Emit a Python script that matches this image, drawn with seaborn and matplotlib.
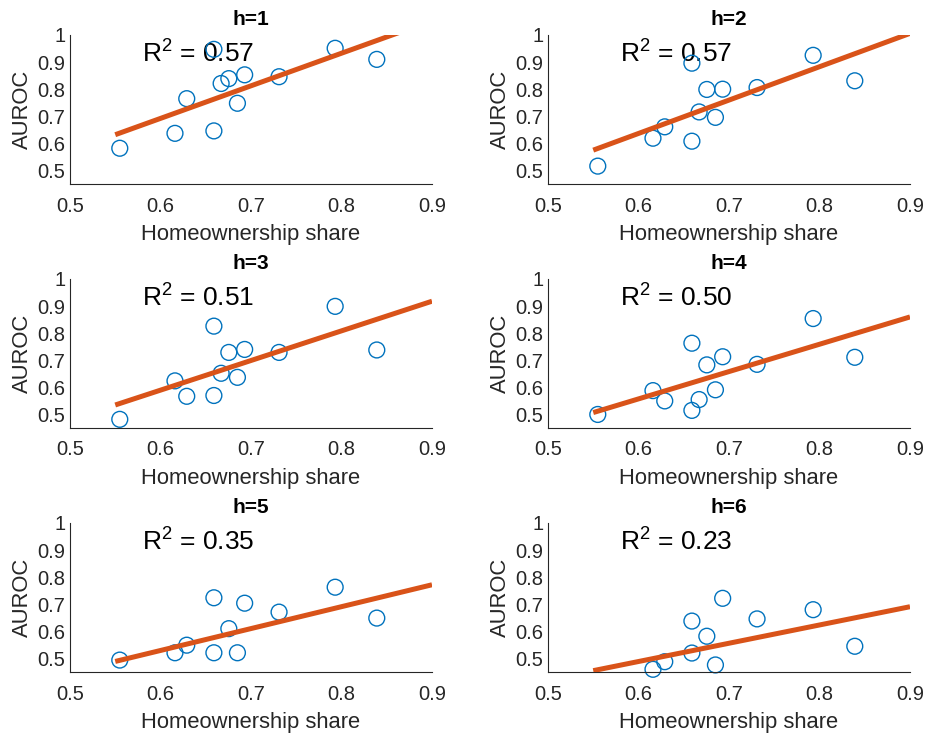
import numpy as np
import pandas as pd
import matplotlib
matplotlib.use("Agg")
import matplotlib.pyplot as plt
import seaborn as sns

# ---------------- data ----------------
homeownership = [0.555, 0.616, 0.629, 0.659, 0.659, 0.667, 0.6755, 0.685, 0.693, 0.731, 0.793, 0.839]
nan = np.nan
auroc_h1 = [0.582, 0.637, 0.765, 0.646, 0.947, 0.821, 0.839, 0.748, 0.853, 0.846, 0.951, 0.910]
auroc_h2 = [0.516, 0.619, 0.661, 0.608, 0.896, 0.716, 0.799, 0.696, 0.800, 0.806, 0.925, 0.831]
auroc_h3 = [0.482, 0.624, 0.567, 0.570, 0.826, 0.652, 0.729, 0.637, 0.740, 0.729, 0.899, 0.738]
auroc_h4 = [0.500, 0.588, 0.550, 0.515, 0.763, 0.555, 0.683, 0.591, 0.713, 0.685, 0.854, 0.711]
auroc_h5 = [0.494, 0.521, 0.549, 0.521, 0.724, nan, 0.610, 0.521, 0.704, 0.671, 0.763, 0.649]
auroc_h6 = [nan, 0.460, 0.488, 0.520, 0.638, nan, 0.582, 0.476, 0.722, 0.646, 0.680, 0.545]
panel_titles = ["h=1", "h=2", "h=3", "h=4", "h=5", "h=6"]
r2_labels = ["0.57", "0.57", "0.51", "0.50", "0.35", "0.23"]
fit_x = [0.55, 0.90]
fit_y_start = [0.632, 0.575, 0.535, 0.507, 0.489, 0.455]
fit_y_end = [1.053, 1.006, 0.918, 0.860, 0.772, 0.691]
x_ticks = [0.5, 0.6, 0.7, 0.8, 0.9]
y_ticks = [0.5, 0.6, 0.7, 0.8, 0.9, 1.0]
y_ticklabels = ["0.5", "0.6", "0.7", "0.8", "0.9", "1"]

all_auroc = [auroc_h1, auroc_h2, auroc_h3, auroc_h4, auroc_h5, auroc_h6]

# ---------------- style ----------------
sns.set_style("white")
plt.rcParams["font.family"] = ["Liberation Sans", "DejaVu Sans"]
plt.rcParams["mathtext.fontset"] = "custom"
plt.rcParams["mathtext.rm"] = "Liberation Sans"
plt.rcParams["mathtext.it"] = "Liberation Sans:italic"
plt.rcParams["mathtext.bf"] = "Liberation Sans:bold"

AX_COLOR = "#262626"
BLUE = "#0072BD"
ORANGE = "#D95319"

fig = plt.figure(figsize=(9.27, 7.34), dpi=100)
lefts = [70 / 927, 548 / 927]
bottoms_px = [184, 428, 672]
height = 149 / 734
width = 362 / 927

for i in range(6):
    row, col = divmod(i, 2)
    ax = fig.add_axes([lefts[col], 1 - bottoms_px[row] / 734, width, height])
    df = pd.DataFrame({"x": homeownership, "y": all_auroc[i]}).dropna()
    sns.scatterplot(data=df, x="x", y="y", ax=ax, marker="o", s=130,
                    facecolors="none", edgecolor=BLUE, linewidth=1.0,
                    clip_on=False, zorder=2)
    fit_df = pd.DataFrame({"x": fit_x, "y": [fit_y_start[i], fit_y_end[i]]})
    sns.lineplot(data=fit_df, x="x", y="y", ax=ax, color=ORANGE, linewidth=3.6,
                 zorder=3, solid_capstyle="butt")
    ax.set_xlim(0.5, 0.9)
    ax.set_ylim(0.45, 1.0)
    ax.set_xticks(x_ticks)
    ax.set_xticklabels([f"{v:g}" for v in x_ticks])
    ax.set_yticks(y_ticks)
    ax.set_yticklabels(y_ticklabels)
    for s in ["top", "right"]:
        ax.spines[s].set_visible(False)
    for s in ["left", "bottom"]:
        ax.spines[s].set_color(AX_COLOR)
        ax.spines[s].set_linewidth(0.8)
    ax.tick_params(axis="both", direction="in", length=3, width=0.8,
                   color=AX_COLOR, labelcolor=AX_COLOR, labelsize=14.5)
    ax.tick_params(axis="x", pad=9)
    ax.tick_params(axis="y", pad=3.5)
    ax.set_xlabel("Homeownership share", fontsize=15.8, color=AX_COLOR, labelpad=6)
    ax.set_ylabel("AUROC", fontsize=15.8, color=AX_COLOR, labelpad=3)
    ax.set_title(panel_titles[i], fontsize=15, fontweight="bold", color="black", pad=7)
    ax.text(0.58, 0.898, r"R$^{2}$ = " + r2_labels[i], fontsize=19, color="black",
            ha="left", va="baseline", zorder=1)
    ax.set_facecolor("white")

fig.savefig("out.png", dpi=100, facecolor="white")
